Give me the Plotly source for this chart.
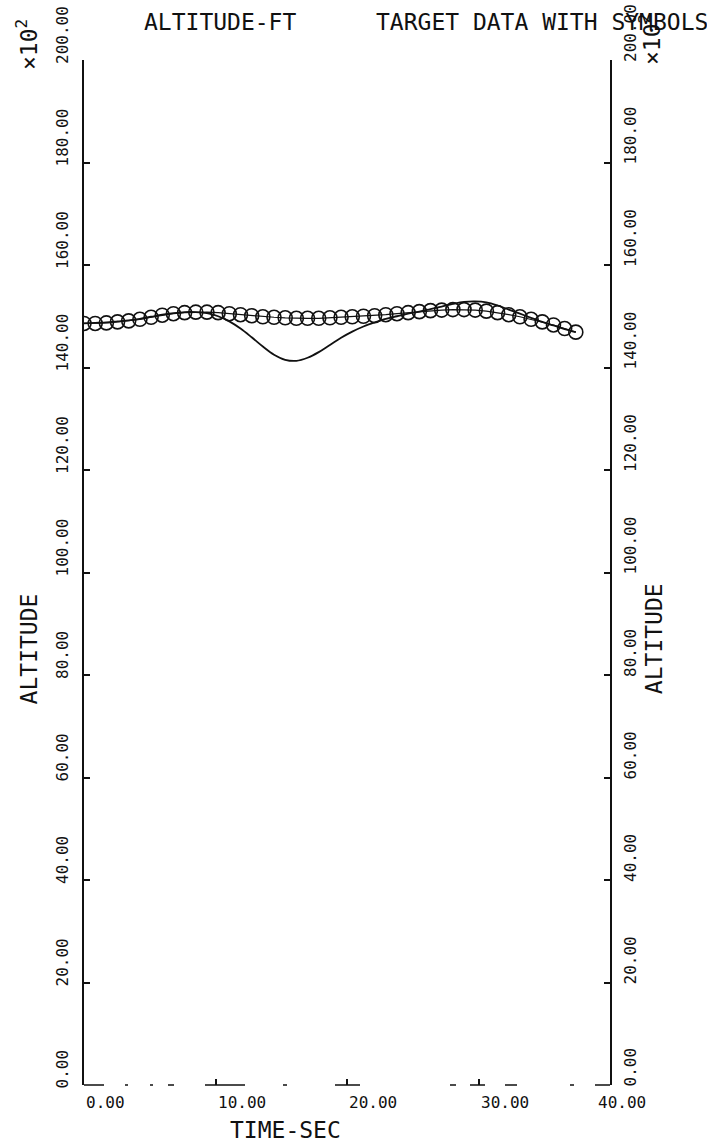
import plotly.graph_objects as go

# Time samples (s)
time_sec = [0.00, 0.85, 1.70, 2.55, 3.40, 4.25, 5.10, 5.95, 6.80, 7.65,
            8.50, 9.35, 10.20, 11.05, 11.90, 12.75, 13.60, 14.45, 15.30, 16.15,
            17.00, 17.85, 18.70, 19.55, 20.40, 21.25, 22.10, 22.95, 23.80, 24.65,
            25.50, 26.35, 27.20, 28.05, 28.90, 29.75, 30.60, 31.45, 32.30, 33.15,
            34.00, 34.85, 35.70, 36.55, 37.40]

# Target altitude (x10^2 ft), plotted with symbols
target_alt = [148.6, 148.6, 148.7, 148.9, 149.1, 149.4, 149.8, 150.2, 150.5, 150.7,
              150.8, 150.8, 150.7, 150.5, 150.3, 150.1, 149.9, 149.8, 149.7, 149.6,
              149.6, 149.6, 149.7, 149.8, 149.9, 150.0, 150.1, 150.3, 150.5, 150.7,
              150.9, 151.1, 151.2, 151.3, 151.3, 151.2, 151.0, 150.7, 150.3, 149.9,
              149.4, 148.9, 148.3, 147.6, 146.9]

# Computed altitude (x10^2 ft), solid line
track_alt = [148.6, 148.7, 148.8, 149.0, 149.2, 149.5, 149.9, 150.3, 150.6, 150.8,
             150.8, 150.6, 150.0, 149.0, 147.6, 145.9, 144.1, 142.5, 141.5, 141.3,
             141.9, 143.0, 144.4, 145.8, 147.0, 148.0, 148.8, 149.5, 150.0, 150.5,
             150.9, 151.4, 151.9, 152.4, 152.8, 152.9, 152.7, 152.1, 151.3, 150.5,
             149.7, 148.9, 148.2, 147.5, 146.9]

x_ticks = [0, 10, 20, 30, 40]
x_tick_labels = ["0.00", "10.00", "20.00", "30.00", "40.00"]
y_ticks = [0, 20, 40, 60, 80, 100, 120, 140, 160, 180, 200]
y_tick_labels = ["0.00", "20.00", "40.00", "60.00", "80.00", "100.00",
                 "120.00", "140.00", "160.00", "180.00", "200.00"]

FONT = "DejaVu Sans Mono"
INK = "#111111"

fig = go.Figure()

fig.add_trace(go.Scatter(
    x=time_sec, y=track_alt, mode="lines", line=dict(color=INK, width=1.8, shape="spline"),
    showlegend=False, hoverinfo="skip"))

fig.add_trace(go.Scatter(
    x=time_sec, y=target_alt, mode="lines+markers",
    line=dict(color=INK, width=1.2),
    marker=dict(symbol="circle-open", size=14, color=INK, line=dict(width=1.6, color=INK)),
    showlegend=False, hoverinfo="skip"))

# invisible trace so the right-hand axis is drawn
fig.add_trace(go.Scatter(x=[0], y=[0], yaxis="y2", mode="markers",
                         marker=dict(opacity=0), showlegend=False, hoverinfo="skip"))

axis_common = dict(range=[0, 200], showgrid=False, zeroline=False, showline=True,
                   linewidth=1.8, linecolor=INK, ticks="inside", tickvals=y_ticks,
                   ticklen=6, tickwidth=1.5, tickcolor=INK, showticklabels=False)

fig.update_layout(
    width=707, height=1145,
    margin=dict(l=84, r=97, t=60, b=60),
    paper_bgcolor="white", plot_bgcolor="white",
    xaxis=dict(range=[0, 40], showgrid=False, zeroline=False, showline=False,
               ticks="inside", tickvals=x_ticks[1:-1], ticklen=6, tickwidth=1.5,
               tickcolor=INK, showticklabels=False),
    yaxis=axis_common,
    yaxis2=dict(axis_common, overlaying="y", side="right"),
)

# broken bottom axis line
fig.add_shape(type="line", xref="paper", yref="paper", x0=0, x1=1, y0=0, y1=0,
              line=dict(color=INK, width=1.6,
                        dash="20px,21px,3px,22px,3px,15px,6px,31px,40px,38px,4px,48px,"
                             "25px,90px,6px,14px,15px,20px,12px,53px,4px,21px,16px,100px"))

ann = []
tick_font = dict(family=FONT, size=16, color=INK)
big_font = dict(family=FONT, size=23, color=INK)

for v, s in zip(y_ticks, y_tick_labels):
    ann.append(dict(x=0, xref="paper", y=v, yref="y", text=s, textangle=-90,
                    xanchor="center", yanchor="bottom", xshift=-22, yshift=-6,
                    showarrow=False, font=tick_font))
    ann.append(dict(x=1, xref="paper", y=v, yref="y", text=s, textangle=-90,
                    xanchor="center", yanchor="bottom", xshift=20, yshift=-4,
                    showarrow=False, font=tick_font))

for v, s in zip(x_ticks, x_tick_labels):
    ann.append(dict(x=v, xref="x", y=0, yref="paper", text=s,
                    xanchor="left", yanchor="top", yshift=-6,
                    xshift=-14 if v == 40 else 0,
                    showarrow=False, font=tick_font))

ann += [
    dict(x=0, xref="paper", y=85, yref="y", text="ALTITUDE", textangle=-90,
         xanchor="center", yanchor="middle", xshift=-55, showarrow=False, font=big_font),
    dict(x=1, xref="paper", y=87, yref="y", text="ALTITUDE", textangle=-90,
         xanchor="center", yanchor="middle", xshift=44, showarrow=False, font=big_font),
    dict(x=15.3, xref="x", y=0, yref="paper", text="TIME-SEC",
         xanchor="center", yanchor="middle", yshift=-45, showarrow=False, font=big_font),
    dict(x=0.110, xref="paper", y=1, yref="paper", text="ALTITUDE-FT",
         xanchor="left", yanchor="middle", yshift=38, showarrow=False, font=big_font),
    dict(x=0.551, xref="paper", y=1, yref="paper", text="TARGET DATA WITH SYMBOLS",
         xanchor="left", yanchor="middle", yshift=38, showarrow=False, font=big_font),
    dict(x=0, xref="paper", y=1, yref="paper", text="×10<sup>2</sup>", textangle=-90,
         xanchor="center", yanchor="middle", xshift=-57, yshift=15,
         showarrow=False, font=big_font),
    dict(x=1, xref="paper", y=1, yref="paper", text="×10<sup>2</sup>", textangle=-90,
         xanchor="center", yanchor="middle", xshift=40, yshift=20,
         showarrow=False, font=big_font),
]

fig.update_layout(annotations=ann)

fig.write_html("out.html")
